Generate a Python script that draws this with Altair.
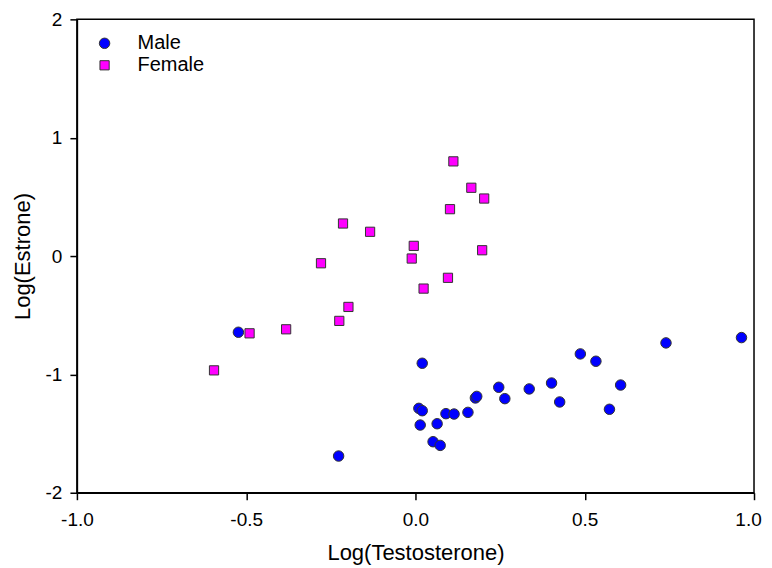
import altair as alt
import pandas as pd

male_x = [-0.523, 0.020, 0.010, 0.020, 0.014, 0.064, 0.052, 0.073, -0.227, 0.090,
          0.114, 0.155, 0.177, 0.181, 0.246, 0.264, 0.336, 0.402, 0.426, 0.487,
          0.533, 0.606, 0.573, 0.740, 0.963]
male_y = [-0.644, -0.906, -1.287, -1.307, -1.428, -1.417, -1.569, -1.600, -1.690, -1.332,
          -1.335, -1.321, -1.199, -1.186, -1.109, -1.205, -1.123, -1.073, -1.233, -0.827,
          -0.889, -1.090, -1.295, -0.734, -0.689]

female_x = [0.112, 0.165, 0.203, 0.102, -0.214, -0.134, -0.005, -0.011, 0.197, -0.279,
            0.096, 0.024, -0.198, -0.225, -0.382, -0.490, -0.595]
female_y = [0.800, 0.577, 0.486, 0.396, 0.275, 0.205, 0.086, -0.021, 0.049, -0.061,
            -0.184, -0.275, -0.430, -0.548, -0.619, -0.653, -0.966]

groups = ["Male", "Female"]
colors = ["#0000FF", "#FF00FF"]
shapes = ["circle", "square"]

x_ticks = [-1.0, -0.5, 0.0, 0.5, 1.0]
y_ticks = [-2, -1, 0, 1, 2]

df = pd.concat([
    pd.DataFrame({"T": male_x, "E": male_y, "Sex": "Male"}),
    pd.DataFrame({"T": female_x, "E": female_y, "Sex": "Female"}),
])

FONT = "Liberation Sans"

chart = alt.Chart(df).mark_point(filled=True, opacity=1, stroke="#333333", strokeWidth=1).encode(
    x=alt.X("T:Q", scale=alt.Scale(domain=[-1, 1], nice=False, zero=False),
            axis=alt.Axis(values=x_ticks, title="Log(Testosterone)",
                          labelExpr="datum.value < 0 ? '-' + format(-datum.value, '.1f') : format(datum.value, '.1f')",
                          grid=False, tickSize=7, labelPadding=11, titlePadding=13,
                          labelFlush=False, labelOverlap=False,
                          labelOffset={"condition": {"test": "datum.value == 1", "value": -6}, "value": 0},
                          labelFontSize=19, titleFontSize=22)),
    y=alt.Y("E:Q", scale=alt.Scale(domain=[-2, 2], nice=False, zero=False),
            axis=alt.Axis(values=y_ticks, title="Log(Estrone)",
                          labelExpr="datum.value < 0 ? '-' + format(-datum.value, 'd') : format(datum.value, 'd')",
                          grid=False, tickSize=7, labelPadding=8, titlePadding=11,
                          labelFlush=False, labelOverlap=False,
                          labelFontSize=19, titleFontSize=22)),
    color=alt.Color("Sex:N", scale=alt.Scale(domain=groups, range=colors),
                    legend=alt.Legend(title=None, orient="none", legendX=17.7, legendY=14,
                                      padding=0, labelFontSize=20, labelOffset=23,
                                      rowPadding=2, symbolSize=80,
                                      symbolStrokeColor="#333333", symbolStrokeWidth=1,
                                      labelFont=FONT)),
    shape=alt.Shape("Sex:N", scale=alt.Scale(domain=groups, range=shapes), legend=None),
    size=alt.Size("Sex:N", scale=alt.Scale(domain=groups, range=[110, 85]), legend=None),
).properties(
    width=678, height=474,
    autosize=alt.AutoSizeParams(type="none"),
    padding={"left": 69, "top": 11, "right": 10, "bottom": 72},
).configure_view(
    stroke="black", strokeWidth=1.5
).configure_axis(
    domainColor="black", domainWidth=1.5, tickColor="black", tickWidth=1.5,
    labelColor="black", titleColor="black", labelFont=FONT, titleFont=FONT,
    titleFontWeight="normal"
)

chart.save("out.html", embed_options={"renderer": "svg", "actions": False})
